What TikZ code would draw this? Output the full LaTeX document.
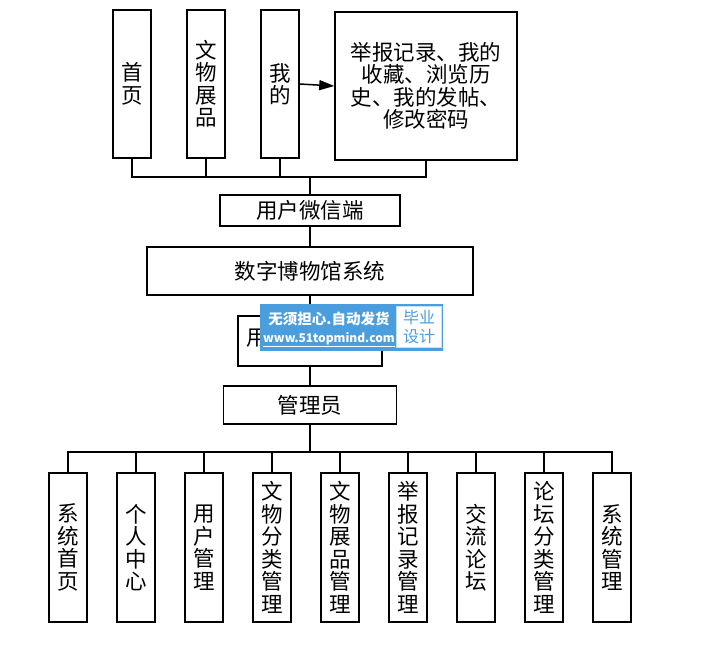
\documentclass[tikz,border=0pt]{standalone}
\usepackage{fontspec}
\newfontfamily\cjk{Noto Sans CJK SC}
\usepackage{xcolor}
\usetikzlibrary{calc}
\usetikzlibrary{arrows.meta}
\definecolor{wmblue}{RGB}{74,158,221}
\definecolor{wmedge}{RGB}{200,225,245}
\tikzset{
	box/.style={draw,line width=1.5pt,inner sep=0pt,align=center,
		font=\cjk\fontsize{21.5}{22.5}\selectfont},
	vbox/.style={box,minimum width=38pt,minimum height=148pt},
	hbox/.style={box,minimum height=31pt},
	link/.style={line width=1.5pt},
}

\begin{document}
\begin{tikzpicture}[x=1pt,y=-1pt]
	\useasboundingbox (0,0) rectangle (704,655);% page as large as the reference
	% top row, user side
	\node[vbox] (shouye) at (132,84) {首\\页};
	\node[vbox] (zhanpin) at (206,84) {文\\物\\展\\品};
	\node[vbox] (wode) at (280,84) {我\\的};
	\node[box,minimum width=182pt,minimum height=148pt] (jubao) at (426,86)
		{举报记录、我的\\收藏、浏览历\\史、我的发帖、\\修改密码};
	\draw[link,-{Triangle[length=15pt,width=10pt]}] (wode.east) -- (jubao.west);
	% bus above the user box
	\coordinate (topbus) at (310,177);
	\node[hbox,minimum width=180pt] (weixin) at (310,210.5) {用户微信端};
	\draw[link] (shouye.south) |- (topbus) -| (jubao.south);
	\draw[link] (zhanpin.south) -- (zhanpin.south |- topbus);
	\draw[link] (wode.south) -- (wode.south |- topbus);
	\draw[link] (topbus) -- (weixin.north);
	% the system itself
	\node[box,minimum width=326pt,minimum height=48pt] (xitong) at (310,271) {数字博物馆系统};
	\draw[link] (weixin.south) -- (xitong.north);
	\node[box,minimum width=144pt,minimum height=50pt] (houtai) at (310,341) {};
	\node[font=\cjk\fontsize{21.5}{22.5}\selectfont,inner sep=0pt] (houtaitext) at (257,338) {用};
	\draw[link] (xitong.south) -- (houtai.north);
	\node[hbox,minimum width=173pt,minimum height=38pt] (guanli) at (310,405) {管理员};
	\draw[link] (houtai.south) -- (guanli.north);
	% watermark lying over the box
	\node[fill=wmblue,minimum width=183pt,minimum height=47pt,inner sep=0pt] (wm) at (351.5,327.5) {};
	\node[fill=white,draw=wmedge,minimum width=45pt,minimum height=41pt,inner sep=0pt,
		align=center,text=wmblue,font=\cjk\fontsize{16}{19}\selectfont] (wmtag) at (419,327) {毕业\\设计};
	\node[text=white,font=\cjk\bfseries\fontsize{14.5}{16}\selectfont,inner sep=0pt] (wmline1) at (329,319) {无须担心.自动发货};
	\node[text=white,font=\cjk\bfseries\fontsize{12}{15}\selectfont,inner sep=0pt] (wmline2) at (329,340) {\underline{www.51topmind.com}};
	% bottom row, administrator side
	\coordinate (botbus) at (310,452);
	\draw[link] (guanli.south) -- (botbus);
	\node[vbox,minimum height=149pt] (m1) at (68,547.5) {系\\统\\首\\页};
	\node[vbox,minimum height=149pt] (m2) at (136,547.5) {个\\人\\中\\心};
	\node[vbox,minimum height=149pt] (m3) at (204,547.5) {用\\户\\管\\理};
	\node[vbox,minimum height=149pt] (m4) at (272,547.5) {文\\物\\分\\类\\管\\理};
	\node[vbox,minimum height=149pt] (m5) at (340,547.5) {文\\物\\展\\品\\管\\理};
	\node[vbox,minimum height=149pt] (m6) at (408,547.5) {举\\报\\记\\录\\管\\理};
	\node[vbox,minimum height=149pt] (m7) at (476,547.5) {交\\流\\论\\坛};
	\node[vbox,minimum height=149pt] (m8) at (544,547.5) {论\\坛\\分\\类\\管\\理};
	\node[vbox,minimum height=149pt] (m9) at (612,547.5) {系\\统\\管\\理};
	\draw[link] (m1.north) |- (botbus) -| (m9.north);
	\foreach \k in {2,...,8}
		\draw[link] (m\k.north) -- (m\k.north |- botbus);
\end{tikzpicture}
\end{document}
